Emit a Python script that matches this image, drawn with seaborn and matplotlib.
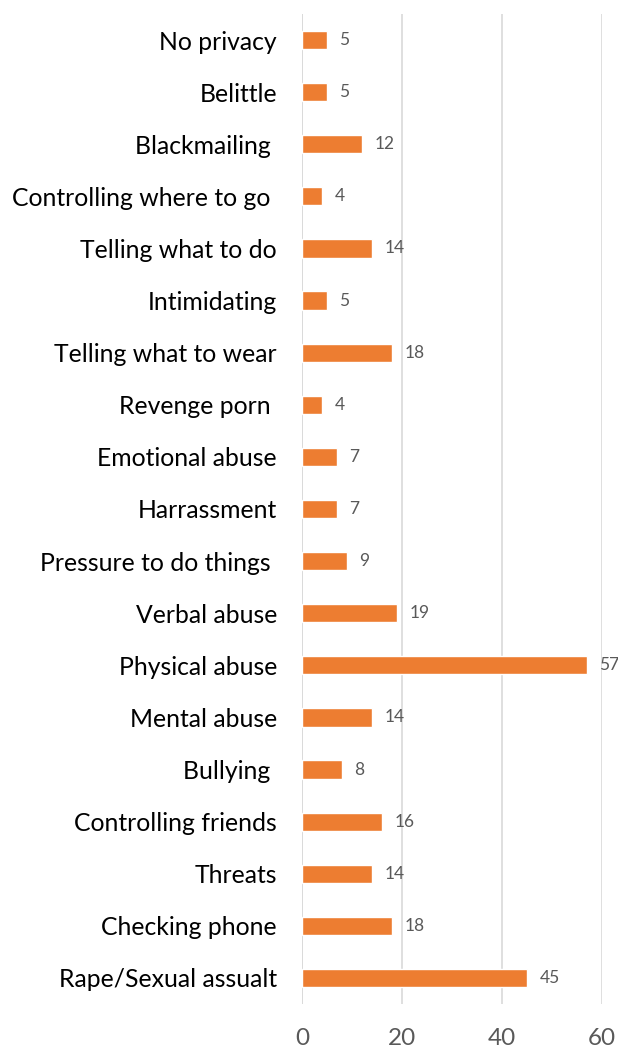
import numpy as np
import pandas as pd
import matplotlib
matplotlib.use("Agg")
import matplotlib.pyplot as plt
import seaborn as sns

sns.set_style("white")
plt.rcParams['font.family'] = ['Lato', 'DejaVu Sans']

categories = ["No privacy", "Belittle", "Blackmailing ", "Controlling where to go ",
              "Telling what to do", "Intimidating", "Telling what to wear", "Revenge porn ",
              "Emotional abuse", "Harrassment", "Pressure to do things ", "Verbal abuse",
              "Physical abuse", "Mental abuse", "Bullying ", "Controlling friends",
              "Threats", "Checking phone", "Rape/Sexual assualt"]
counts = [5, 5, 12, 4, 14, 5, 18, 4, 7, 7, 9, 19, 57, 14, 8, 16, 14, 18, 45]

df = pd.DataFrame({"category": categories, "count": counts})

fig = plt.figure(figsize=(6.18, 10.47), dpi=100)
ax = fig.add_axes([302 / 618, 1 - 1004 / 1047, 300 / 618, 990 / 1047])

sns.barplot(data=df, y="category", x="count", color="#ED7D31", width=0.35,
            saturation=1, ax=ax, orient="h")

ax.set_xlim(0, 60)
ax.set_ylim(len(categories) - 0.5, -0.5)
ax.set_xticks([0, 20, 40, 60])
ax.grid(axis="x", color="#D9D9D9", linewidth=1.2)
ax.set_axisbelow(True)
for s in ax.spines.values():
    s.set_visible(False)
ax.axvline(0, color="#D9D9D9", linewidth=1.2, zorder=0)
ax.set_xlabel("")
ax.set_ylabel("")
ax.tick_params(axis="y", length=0, pad=18, labelsize=17.8, labelcolor="black")
ax.tick_params(axis="x", length=0, pad=17, labelsize=17.5, labelcolor="#595959")

for i, v in enumerate(counts):
    ax.annotate(str(v), (v, i), xytext=(9, 0), textcoords="offset points",
                va="center", ha="left", fontsize=12.5, color="#595959",
                annotation_clip=False)

fig.savefig("out.png", dpi=100)
